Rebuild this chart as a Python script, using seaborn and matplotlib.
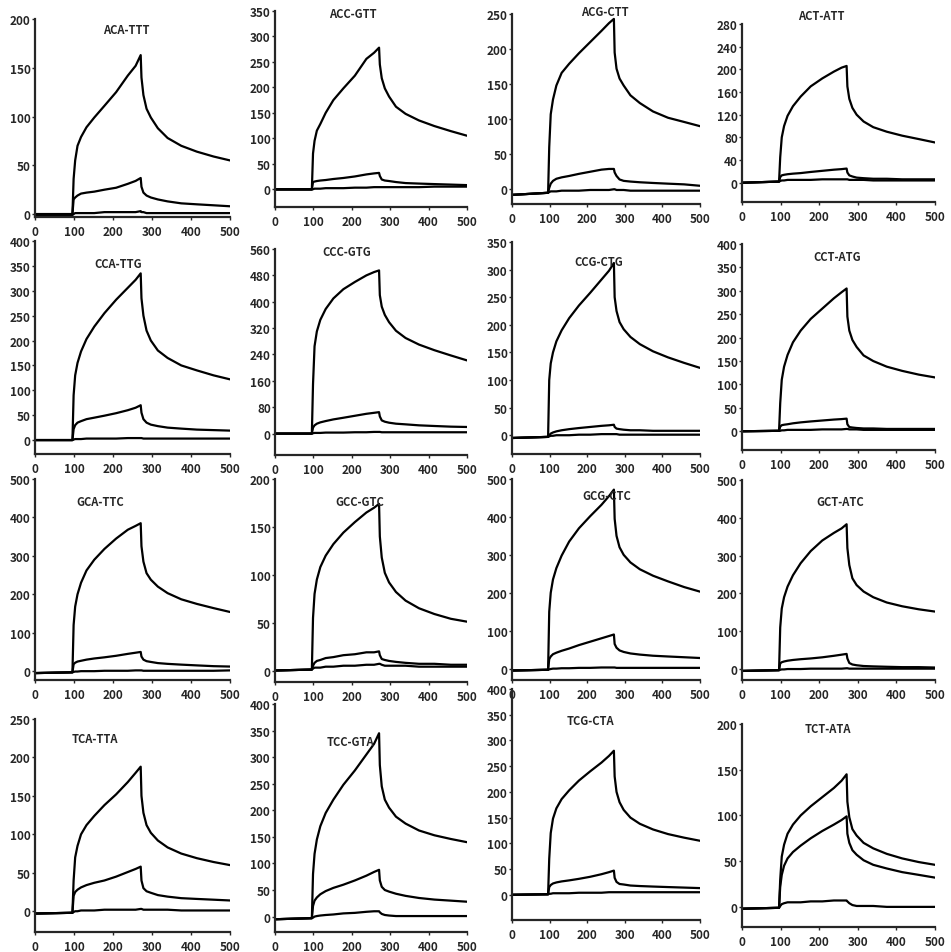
import numpy as np
import pandas as pd
import seaborn as sns
import matplotlib.pyplot as plt

# sample times (s) shared by all sensorgrams
T = [0, 96, 99, 103, 109, 118, 132, 152, 178, 208, 238, 258, 271,
     273, 278, 286, 297, 315, 340, 375, 415, 458, 500]

titles = ['ACA-TTT', 'ACC-GTT', 'ACG-CTT', 'ACT-ATT',
          'CCA-TTG', 'CCC-GTG', 'CCG-CTG', 'CCT-ATG',
          'GCA-TTC', 'GCC-GTC', 'GCG-CTC', 'GCT-ATC',
          'TCA-TTA', 'TCC-GTA', 'TCG-CTA', 'TCT-ATA']

# y axis: top tick, tick step, lower limit
y_top = [200, 350, 250, 280, 400, 560, 350, 400, 500, 200, 500, 500, 250, 400, 400, 200]
y_step = [50, 50, 50, 40, 50, 80, 50, 50, 100, 50, 100, 100, 50, 50, 50, 50]
y_bottom = [-3, -35, -21, -34, -28, -65, -34, -40, -23, -12, -30, -29, -27, -29, -49, -22]

# response (RU) of the three curves in each panel
high = [
    [0, 0, 36, 55, 70, 79, 89, 99, 111, 125, 142, 152, 163, 140, 122, 108, 99, 88, 78, 70, 64, 59, 55],
    [0, 0, 70, 95, 115, 128, 150, 175, 198, 223, 256, 268, 278, 245, 218, 198, 182, 162, 148, 135, 124, 114, 105],
    [-8, -5, 60, 107, 128, 148, 166, 179, 194, 210, 226, 237, 243, 195, 172, 158, 148, 134, 123, 111, 102, 96, 90],
    [0, 2, 45, 80, 100, 118, 135, 152, 170, 184, 196, 203, 206, 170, 148, 132, 120, 108, 98, 90, 83, 77, 71],
    [0, 0, 90, 130, 155, 178, 203, 228, 255, 282, 306, 322, 335, 285, 250, 220, 200, 180, 165, 150, 140, 130, 122],
    [0, 0, 150, 265, 310, 345, 378, 410, 438, 460, 480, 490, 495, 420, 385, 360, 338, 312, 290, 270, 253, 237, 222],
    [-5, -3, 100, 130, 150, 170, 190, 212, 235, 258, 282, 298, 312, 250, 225, 205, 192, 178, 165, 152, 141, 131, 122],
    [0, 1, 60, 110, 138, 163, 190, 215, 240, 262, 284, 297, 305, 245, 215, 195, 180, 162, 150, 138, 129, 121, 115],
    [-5, -3, 120, 168, 200, 230, 262, 290, 318, 345, 368, 378, 385, 325, 285, 255, 238, 220, 203, 187, 175, 164, 154],
    [0, 1, 55, 80, 95, 108, 120, 132, 144, 155, 165, 170, 174, 140, 118, 102, 92, 82, 73, 65, 59, 54, 51],
    [-5, -3, 150, 200, 235, 265, 298, 335, 370, 402, 432, 455, 472, 395, 350, 320, 300, 280, 262, 245, 230, 215, 203],
    [-5, -3, 110, 160, 190, 218, 248, 280, 312, 340, 360, 372, 383, 320, 275, 240, 222, 205, 190, 176, 166, 158, 152],
    [-3, -2, 40, 70, 85, 100, 112, 124, 138, 152, 168, 180, 188, 150, 128, 112, 102, 92, 83, 75, 69, 64, 60],
    [-5, -3, 80, 118, 145, 170, 195, 220, 248, 275, 305, 325, 345, 285, 245, 220, 205, 188, 175, 162, 153, 146, 140],
    [0, 1, 70, 120, 148, 168, 186, 203, 222, 240, 257, 270, 280, 230, 200, 180, 165, 150, 138, 127, 118, 111, 105],
    [-2, -1, 30, 55, 68, 80, 90, 100, 110, 120, 130, 138, 145, 115, 98, 85, 78, 70, 64, 58, 53, 49, 46],
]
mid = [
    [0, 0, 15, 17, 19, 21, 22, 23, 25, 27, 31, 34, 37, 28, 22, 19, 17, 15, 13, 11, 10, 9, 8],
    [0, 0, 14, 15, 16, 17, 18, 20, 22, 25, 29, 31, 32, 26, 19, 17, 16, 14, 12, 11, 10, 9, 8],
    [-8, -5, 2, 8, 12, 15, 17, 19, 22, 25, 28, 29, 29, 24, 19, 14, 12, 11, 10, 9, 8, 7, 5],
    [0, 2, 10, 13, 14, 15, 16, 17, 19, 21, 23, 24, 25, 18, 13, 11, 9, 8, 7, 7, 6, 6, 6],
    [0, 0, 22, 30, 35, 38, 42, 45, 49, 54, 60, 65, 70, 55, 42, 35, 31, 28, 25, 23, 21, 20, 19],
    [0, 0, 18, 25, 30, 34, 38, 43, 48, 54, 60, 63, 65, 52, 40, 36, 33, 30, 28, 25, 23, 21, 20],
    [-5, -3, 0, 3, 5, 7, 9, 11, 13, 15, 17, 18, 19, 15, 12, 11, 10, 9, 9, 8, 8, 8, 8],
    [0, 1, 10, 13, 14, 15, 17, 19, 21, 23, 25, 26, 27, 15, 9, 8, 7, 6, 6, 5, 5, 5, 5],
    [-5, -3, 18, 22, 25, 27, 30, 33, 36, 40, 45, 48, 50, 38, 30, 26, 24, 21, 19, 17, 15, 13, 12],
    [0, 1, 5, 8, 10, 11, 13, 14, 16, 17, 19, 19, 20, 16, 12, 11, 10, 9, 8, 7, 7, 6, 6],
    [-5, -3, 25, 32, 38, 42, 47, 53, 62, 71, 80, 86, 90, 65, 55, 48, 44, 40, 37, 34, 32, 30, 28],
    [-5, -3, 15, 18, 20, 22, 24, 26, 28, 31, 35, 38, 40, 28, 16, 12, 10, 8, 7, 6, 5, 5, 4],
    [-3, -2, 20, 25, 28, 31, 34, 37, 40, 45, 51, 55, 58, 40, 30, 26, 24, 21, 19, 17, 16, 15, 14],
    [-5, -3, 20, 30, 36, 42, 48, 54, 60, 68, 77, 84, 88, 68, 56, 50, 47, 43, 39, 35, 32, 30, 28],
    [0, 1, 15, 19, 22, 24, 26, 28, 31, 35, 40, 44, 47, 33, 25, 21, 20, 18, 17, 16, 15, 14, 13],
    [-2, -1, 22, 35, 45, 53, 60, 67, 75, 83, 90, 95, 99, 80, 70, 62, 57, 51, 46, 42, 38, 35, 32],
]
low = [
    [-1, -1, 0, 1, 1, 1, 1, 1, 2, 2, 2, 2, 3, 2, 2, 1, 1, 1, 1, 1, 1, 1, 1],
    [-1, -1, 0, 1, 1, 1, 2, 2, 2, 3, 3, 4, 4, 4, 4, 4, 4, 4, 4, 4, 5, 5, 5],
    [-8, -5, -4, -3, -3, -3, -2, -2, -2, -1, -1, -1, 0, 0, -1, -1, -1, -2, -2, -2, -2, -2, -2],
    [0, 2, 3, 4, 4, 5, 5, 5, 5, 6, 6, 6, 6, 6, 5, 5, 5, 5, 4, 4, 4, 4, 4],
    [0, 0, 1, 2, 2, 2, 3, 3, 3, 3, 4, 4, 4, 4, 3, 3, 3, 3, 3, 3, 3, 3, 3],
    [0, 0, 1, 2, 2, 2, 3, 3, 3, 4, 4, 5, 5, 5, 4, 4, 4, 4, 4, 4, 4, 4, 4],
    [-5, -3, -2, -1, -1, 0, 0, 0, 1, 1, 2, 2, 2, 2, 2, 1, 1, 1, 1, 1, 1, 1, 1],
    [0, 1, 1, 2, 2, 3, 3, 3, 3, 4, 4, 4, 5, 5, 4, 4, 4, 3, 3, 3, 3, 3, 3],
    [-5, -3, -2, -1, -1, 0, 0, 0, 1, 1, 1, 2, 2, 2, 1, 1, 1, 1, 1, 1, 1, 1, 2],
    [0, 1, 2, 3, 3, 3, 4, 4, 5, 5, 6, 6, 7, 7, 6, 5, 5, 5, 5, 4, 4, 4, 4],
    [-5, -3, -2, -1, 0, 0, 1, 1, 2, 2, 3, 3, 3, 3, 2, 2, 2, 2, 2, 2, 2, 2, 2],
    [-5, -3, -2, -1, -1, 0, 0, 0, 1, 1, 1, 1, 2, 2, 1, 1, 1, 1, 1, 1, 1, 1, 1],
    [-3, -2, -1, 0, 0, 1, 1, 1, 2, 2, 2, 2, 3, 3, 2, 2, 2, 2, 2, 1, 1, 1, 1],
    [-5, -3, -2, 0, 1, 2, 3, 4, 6, 7, 9, 10, 10, 8, 5, 3, 2, 1, 1, 1, 1, 1, 1],
    [0, 1, 2, 2, 3, 3, 3, 3, 4, 4, 4, 5, 5, 5, 5, 5, 5, 5, 5, 5, 5, 5, 5],
    [-2, -1, 1, 3, 4, 5, 5, 5, 6, 6, 7, 7, 7, 6, 4, 2, 1, 1, 1, 0, 0, 0, 0],
]

sns.set_style('ticks')
plt.rcParams['font.family'] = ['Noto Sans CJK JP', 'DejaVu Sans']

W, H = 951, 953
fig = plt.figure(figsize=(W / 100, H / 100), dpi=100)

# pixel layout of the grid (x=0 .. x=500 span, top tick .. x-axis line)
col_left = [35, 275, 512, 742]
col_right = [230, 467, 700, 935]
row_top = [[20, 12, 15, 25], [242, 250, 243, 245], [480, 480, 480, 481], [720, 705, 690, 725]]
row_bottom = [[218, 208, 205, 203], [455, 456, 455, 451], [681, 683, 681, 681], [933, 933, 921, 928]]
title_x = [126, 353, 605, 821, 118, 347, 599, 837, 100, 360, 607, 840, 95, 350, 590, 828]
title_y = [30, 14, 12, 17, 265, 252, 263, 258, 503, 503, 497, 503, 740, 742, 722, 730]

for i, title in enumerate(titles):
    r, c = divmod(i, 4)
    top_px, bot_px = row_top[r][c], row_bottom[r][c]
    ax = fig.add_axes([col_left[c] / W, 1 - bot_px / H,
                       (col_right[c] - col_left[c]) / W, (bot_px - top_px) / H])
    df = pd.DataFrame({'t': T * 3,
                       'ru': high[i] + mid[i] + low[i],
                       'curve': ['high'] * len(T) + ['mid'] * len(T) + ['low'] * len(T)})
    sns.lineplot(data=df, x='t', y='ru', units='curve', estimator=None,
                 color='black', lw=1.6, ax=ax, legend=False)
    ax.set_xlim(0, 500)
    ax.set_ylim(y_bottom[i], y_top[i])
    ax.set_xticks(range(0, 501, 100))
    ax.set_yticks(np.arange(0, y_top[i] + 1, y_step[i]))
    ax.set_xlabel('')
    ax.set_ylabel('')
    ax.tick_params(labelsize=8.5, length=2, width=1, pad=1)
    ax.tick_params(axis='x', pad=4)
    for lab in ax.get_xticklabels() + ax.get_yticklabels():
        lab.set_fontweight('bold')
    ax.spines['left'].set_linewidth(1.6)
    ax.spines['bottom'].set_linewidth(1.6)
    ax.patch.set_alpha(0)
    sns.despine(ax=ax)
    fig.text(title_x[i] / W, 1 - title_y[i] / H, title, ha='center', va='center',
             fontsize=8, fontweight='bold')

fig.savefig('out.png', dpi=100)
